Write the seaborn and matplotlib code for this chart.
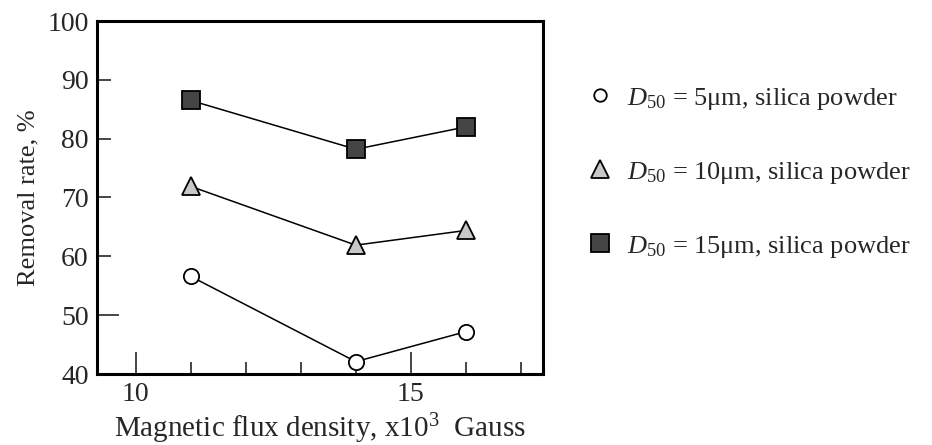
import numpy as np
import pandas as pd
import seaborn as sns
import matplotlib
matplotlib.use("Agg")
import matplotlib.pyplot as plt
from matplotlib.lines import Line2D
from matplotlib.ticker import MultipleLocator, FixedLocator

flux = [11, 14, 16]
d5 = [56.6, 42.1, 47.2]
d10 = [71.9, 61.9, 64.4]
d15 = [86.5, 78.2, 82.0]
labels = [r"$D_{50}$ = 5μm, silica powder",
          r"$D_{50}$ = 10μm, silica powder",
          r"$D_{50}$ = 15μm, silica powder"]

sns.set_style("white")
plt.rcParams["font.family"] = ["Liberation Serif", "DejaVu Serif"]
plt.rcParams["mathtext.fontset"] = "custom"
plt.rcParams["mathtext.rm"] = "Liberation Serif"
plt.rcParams["mathtext.it"] = "Liberation Serif:italic"

fig = plt.figure(figsize=(9.32, 4.45), dpi=100)
ax = fig.add_axes([97/932, 71/445, (543-97)/932, (374-21)/445])

styles = [
    (d5, "o", "white", 11, 9),
    (d10, "^", "#c8c8c8", 13, 13),
    (d15, "s", "#454545", 13, 13),
]
handles = []
for (vals, m, fc, ms, lms), lab in zip(styles, labels):
    sns.lineplot(x=flux, y=vals, ax=ax, color="black", lw=1.1,
                 marker=m, markersize=ms, markerfacecolor=fc,
                 markeredgecolor="black", markeredgewidth=1.3)
    handles.append(Line2D([], [], ls="none", marker=m, markersize=lms,
                          markerfacecolor=fc, markeredgecolor="black",
                          markeredgewidth=1.3, label=lab))

ax.set_xlim(9.3, 17.4)
ax.set_ylim(40, 100)
ax.xaxis.set_major_locator(FixedLocator([10, 15]))
ax.xaxis.set_minor_locator(FixedLocator([11, 12, 13, 14, 16, 17]))
ax.yaxis.set_major_locator(MultipleLocator(10))
ax.tick_params(axis="x", which="major", direction="in", length=16, width=1.2,
               labelsize=20, pad=6, bottom=True, top=False)
ax.tick_params(axis="x", which="minor", direction="in", length=9, width=1.2,
               bottom=True, top=False)
ax.tick_params(axis="y", which="major", direction="in", length=10, width=1.2,
               labelsize=20, pad=6, left=True, right=False)
for t in ax.yaxis.get_major_ticks():
    if abs(t.get_loc() - 50) < 1e-6:
        t.tick1line.set_markersize(16)

for s in ax.spines.values():
    s.set_linewidth(2.2)
    s.set_color("black")

ax.set_xlabel(r"Magnetic flux density, x10$^3$  Gauss", fontsize=21, labelpad=3)
ax.set_ylabel("Removal rate, %", fontsize=19, labelpad=6)

fig.legend(handles=handles, loc="upper left", bbox_to_anchor=(578/932, 1 - 75/445),
           frameon=False, fontsize=19, labelspacing=1.82, handlelength=0.9,
           handletextpad=0.55, borderaxespad=0)

fig.savefig("out.png", dpi=100)
